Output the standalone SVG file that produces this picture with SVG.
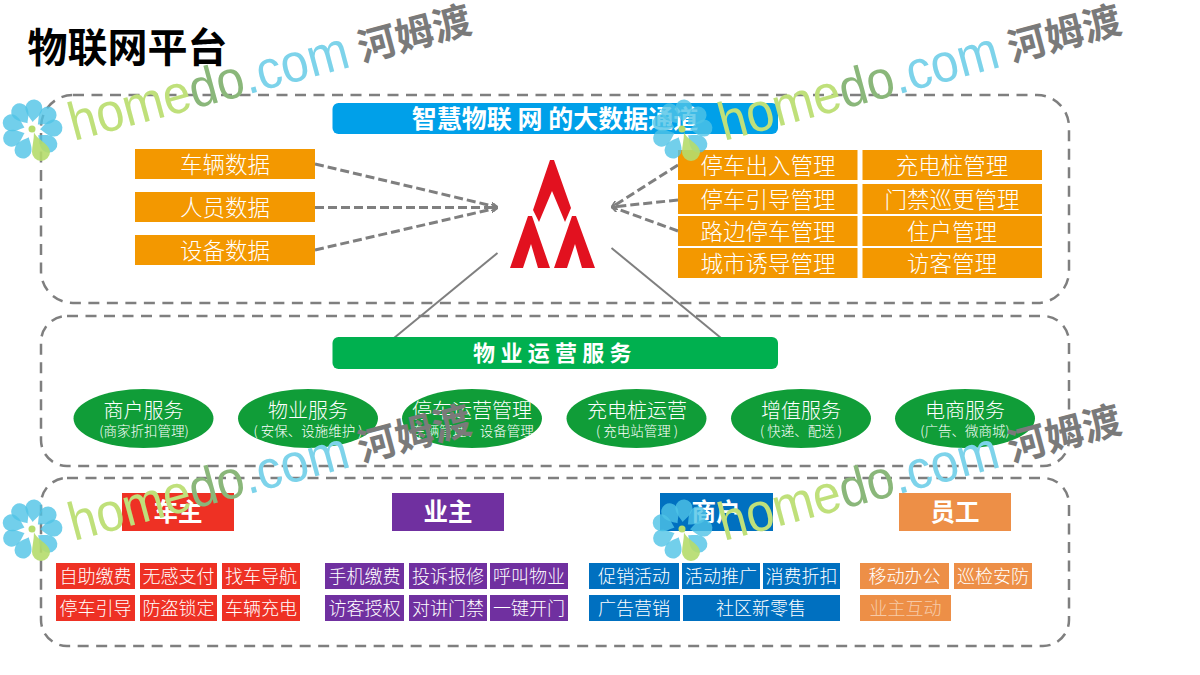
<svg xmlns="http://www.w3.org/2000/svg" xmlns:xlink="http://www.w3.org/1999/xlink" width="1200" height="675" viewBox="0 0 1200 675">
<style>
text{font-family:"Noto Sans CJK SC","Noto Sans",sans-serif;text-anchor:middle;fill:#fff}
.frame{fill:none;stroke:#7f7f7f;stroke-width:2.5;stroke-dasharray:11 7.5}
.dash{fill:none;stroke:#7f7f7f;stroke-width:3;stroke-dasharray:9 4}
.solid{fill:none;stroke:#7f7f7f;stroke-width:2}
.or{fill:#f39800}.r{fill:#ee3124}.p{fill:#7030a0}.b{fill:#0070c0}.o{fill:#ed8f47}
.t22{font-size:22.5px;font-weight:300}.t18{font-size:18px;font-weight:300}.t24{font-size:24.5px;font-weight:700}
.el{fill:#109d38}.t20{font-size:20px;font-weight:300}.t13{font-size:13.5px;font-weight:300}
.petal{fill:#4fc3e6;fill-opacity:.8}
</style>
<defs>
<marker id="tip" viewBox="0 0 8 8" refX="7" refY="4" markerWidth="2.300" markerHeight="2.300" orient="auto"><path d="M0,0L8,4L0,8" fill="none" stroke="#7f7f7f" stroke-width="2"/></marker>
<path id="pt" class="petal" d="M0,-8C-2,-11 -8.500,-16 -8.500,-22A8.500,8.500 0 0 1 8.500,-22C8.500,-16 2,-11 0,-8Z"/>
<g id="wm">
<use xlink:href="#pt" transform="translate(32,130) rotate(-34)"/>
<use xlink:href="#pt" transform="translate(32,130) rotate(5)"/>
<use xlink:href="#pt" transform="translate(32,130) rotate(47)"/>
<use xlink:href="#pt" transform="translate(32,130) rotate(85)"/>
<use xlink:href="#pt" transform="translate(32,130) rotate(130)"/>
<use xlink:href="#pt" transform="translate(32,130) rotate(-156)"/>
<use xlink:href="#pt" transform="translate(32,130) rotate(-112)"/>
<use xlink:href="#pt" transform="translate(32,130) rotate(-71)"/>
<circle cx="32" cy="129" r="3.500" fill="#b5dc6c"/>
<path d="M34,132C36,139 50,144 50,152A9,9 0 0 1 32,152C32,146 34,140 34,132Z" fill="#b5dc6c" fill-opacity=".9"/>
<text transform="translate(74,141) rotate(-15)" style="font-family:'Liberation Sans',sans-serif;font-size:54px;text-anchor:start" textLength="288" lengthAdjust="spacingAndGlyphs"><tspan fill="#bfe07a">home</tspan><tspan fill="#8ab77a">do</tspan><tspan fill="#7dd3ea">.com</tspan></text>
<text transform="translate(362,62) rotate(-15)" style="font-family:'Noto Sans CJK SC',sans-serif;font-size:38.500px;font-weight:700;text-anchor:start;fill:#7a7a7a">河姆渡</text>
</g>
</defs>
<rect width="1200" height="675" fill="#fff"/>
<text x="27.500" y="62" style="font-size:40px;font-weight:700;fill:#000;text-anchor:start">物联网平台</text>

<g id="frames">
<rect class="frame" x="41" y="95" width="1028" height="208" rx="32"/>
<rect class="frame" x="41" y="316" width="1028" height="150" rx="26"/>
<rect class="frame" x="41" y="478" width="1028" height="168" rx="26"/>
</g>

<g id="connectors">
<path class="dash" marker-end="url(#tip)" d="M315,164L497,207"/>
<path class="dash" marker-end="url(#tip)" d="M315,207.500H497"/>
<path class="dash" marker-end="url(#tip)" d="M315,250L497,208"/>
<path class="dash" marker-end="url(#tip)" d="M678,165L612,207"/>
<path class="dash" marker-end="url(#tip)" d="M678,200L612,207"/>
<path class="dash" marker-end="url(#tip)" d="M678,231L612,207"/>
<path class="solid" d="M497.500,253L394,338"/>
<path class="solid" d="M611.500,248L721,338"/>
</g>

<g id="bar-data"><rect x="332.500" y="103" width="445.500" height="31" rx="6" fill="#00a0e9"/><text x="555" y="128" style="font-size:25px;font-weight:700">智慧物联 网 的大数据通道</text></g>
<g id="bar-ops"><rect x="332.500" y="337" width="445.500" height="32" rx="6" fill="#00b04f"/><text x="555" y="361" style="font-size:22px;font-weight:700;letter-spacing:5.300px">物业运营服务</text></g>

<g id="logo" fill="#e2111f">
<path d="M550,160H554L571,208L565,222L552,191L539,222L533,210Z"/>
<path d="M528,216H532L550,268H538L531,244L523,268H510Z"/>
<path d="M572,216H576L595,268H582L575,244L567,268H554Z"/>
</g>

<g id="d1"><rect class="or" x="135" y="149" width="180" height="30"/><text class="t22" x="225" y="173">车辆数据</text></g>
<g id="d2"><rect class="or" x="135" y="192" width="180" height="30"/><text class="t22" x="225" y="216">人员数据</text></g>
<g id="d3"><rect class="or" x="135" y="235" width="180" height="30"/><text class="t22" x="225" y="259">设备数据</text></g>

<g id="m1"><rect class="or" x="678" y="150" width="179.500" height="30"/><text class="t22" x="768" y="174">停车出入管理</text></g>
<g id="m2"><rect class="or" x="678" y="184" width="179.500" height="30"/><text class="t22" x="768" y="208">停车引导管理</text></g>
<g id="m3"><rect class="or" x="678" y="216" width="179.500" height="30"/><text class="t22" x="768" y="240">路边停车管理</text></g>
<g id="m4"><rect class="or" x="678" y="248" width="179.500" height="30"/><text class="t22" x="768" y="272">城市诱导管理</text></g>
<g id="m5"><rect class="or" x="862.500" y="150" width="179.500" height="30"/><text class="t22" x="952" y="174">充电桩管理</text></g>
<g id="m6"><rect class="or" x="862.500" y="184" width="179.500" height="30"/><text class="t22" x="952" y="208">门禁巡更管理</text></g>
<g id="m7"><rect class="or" x="862.500" y="216" width="179.500" height="30"/><text class="t22" x="952" y="240">住户管理</text></g>
<g id="m8"><rect class="or" x="862.500" y="248" width="179.500" height="30"/><text class="t22" x="952" y="272">访客管理</text></g>

<g id="s1"><ellipse class="el" cx="143.500" cy="418.500" rx="70" ry="29.500"/><text class="t20" x="143.500" y="418">商户服务</text><text class="t13" x="144" y="436">(商家折扣管理)</text></g>
<g id="s2"><ellipse class="el" cx="308" cy="418.500" rx="70" ry="29.500"/><text class="t20" x="308" y="418">物业服务</text><text class="t13" x="308" y="436">( 安保、设施维护 )</text></g>
<g id="s3"><ellipse class="el" cx="472" cy="418.500" rx="70" ry="29.500"/><text class="t20" x="472" y="418">停车运营管理</text><text class="t13" x="473" y="436">车辆管理、设备管理</text></g>
<g id="s4"><ellipse class="el" cx="636.500" cy="418.500" rx="70" ry="29.500"/><text class="t20" x="637" y="418">充电桩运营</text><text class="t13" x="637" y="436">( 充电站管理 )</text></g>
<g id="s5"><ellipse class="el" cx="801" cy="418.500" rx="70" ry="29.500"/><text class="t20" x="801" y="418">增值服务</text><text class="t13" x="801" y="436">( 快递、配送 )</text></g>
<g id="s6"><ellipse class="el" cx="965" cy="418.500" rx="70" ry="29.500"/><text class="t20" x="965" y="418">电商服务</text><text class="t13" x="965" y="436">(广告、微商城)</text></g>

<g id="h1"><rect class="r" x="122" y="493" width="112" height="38"/><text class="t24" x="178" y="521">车主</text></g>
<g id="h2"><rect class="p" x="392" y="493" width="112" height="38"/><text class="t24" x="448" y="521">业主</text></g>
<g id="h3"><rect class="b" x="660" y="493" width="113" height="38"/><text class="t24" x="716" y="521">商户</text></g>
<g id="h4"><rect class="o" x="899" y="493" width="112" height="38"/><text class="t24" x="955" y="521">员工</text></g>

<g id="r1"><rect class="r" x="56" y="563" width="79" height="26"/><text class="t18" x="95.500" y="582.500">自助缴费</text></g>
<g id="r2"><rect class="r" x="140" y="563" width="77" height="26"/><text class="t18" x="178.500" y="582.500">无感支付</text></g>
<g id="r3"><rect class="r" x="222" y="563" width="78" height="26"/><text class="t18" x="261" y="582.500">找车导航</text></g>
<g id="r4"><rect class="r" x="56" y="595" width="79" height="26"/><text class="t18" x="95.500" y="614.500">停车引导</text></g>
<g id="r5"><rect class="r" x="140" y="595" width="77" height="26"/><text class="t18" x="178.500" y="614.500">防盗锁定</text></g>
<g id="r6"><rect class="r" x="222" y="595" width="78" height="26"/><text class="t18" x="261" y="614.500">车辆充电</text></g>

<g id="p1"><rect class="p" x="325" y="563" width="79" height="26"/><text class="t18" x="364.500" y="582.500">手机缴费</text></g>
<g id="p2"><rect class="p" x="409" y="563" width="78" height="26"/><text class="t18" x="448" y="582.500">投诉报修</text></g>
<g id="p3"><rect class="p" x="490" y="563" width="78" height="26"/><text class="t18" x="529" y="582.500">呼叫物业</text></g>
<g id="p4"><rect class="p" x="325" y="595" width="79" height="26"/><text class="t18" x="364.500" y="614.500">访客授权</text></g>
<g id="p5"><rect class="p" x="409" y="595" width="78" height="26"/><text class="t18" x="448" y="614.500">对讲门禁</text></g>
<g id="p6"><rect class="p" x="490" y="595" width="78" height="26"/><text class="t18" x="529" y="614.500">一键开门</text></g>

<g id="b1"><rect class="b" x="589" y="563" width="90" height="26"/><text class="t18" x="634" y="582.500">促销活动</text></g>
<g id="b2"><rect class="b" x="682" y="563" width="78" height="26"/><text class="t18" x="721" y="582.500">活动推广</text></g>
<g id="b3"><rect class="b" x="763" y="563" width="77" height="26"/><text class="t18" x="801.500" y="582.500">消费折扣</text></g>
<g id="b4"><rect class="b" x="589" y="595" width="91" height="26"/><text class="t18" x="634" y="614.500">广告营销</text></g>
<g id="b5"><rect class="b" x="683" y="595" width="157" height="26"/><text class="t18" x="761" y="614.500">社区新零售</text></g>

<g id="o1"><rect class="o" x="860" y="563" width="89" height="26"/><text class="t18" x="904.500" y="582.500">移动办公</text></g>
<g id="o2"><rect class="o" x="954" y="563" width="78" height="26"/><text class="t18" x="993" y="582.500">巡检安防</text></g>
<g id="o3"><rect class="o" x="860" y="595" width="91" height="26"/><text class="t18" x="905.500" y="614.500" style="fill-opacity:.55">业主互动</text></g>

<g id="watermarks">
<use xlink:href="#wm"/>
<use xlink:href="#wm" transform="translate(650,0)"/>
<use xlink:href="#wm" transform="translate(0,400)"/>
<use xlink:href="#wm" transform="translate(650,400)"/>
</g>
</svg>
